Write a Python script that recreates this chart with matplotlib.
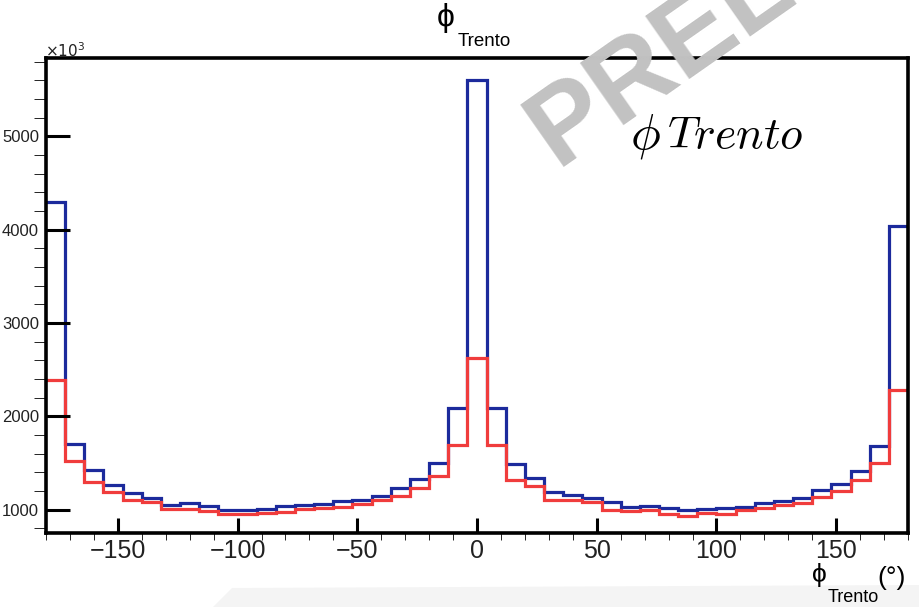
import numpy as np
import matplotlib
matplotlib.use('Agg')
import matplotlib.pyplot as plt
from matplotlib.patches import Polygon
from matplotlib.ticker import MultipleLocator

plt.rcParams['font.family'] = ['Liberation Sans', 'DejaVu Sans']

# histogram range / binning (degrees)
phi_lo, phi_hi, n_bins = -180, 180, 45

# counts per bin, in units of 10^3
counts_blue = [4294, 1707, 1421, 1268, 1179, 1125, 1054, 1071, 1043, 1000,
               1000, 1007, 1043, 1050, 1061, 1096, 1107, 1150, 1232, 1329,
               1500, 2090, 5601, 2090, 1489, 1339, 1189, 1157, 1129, 1086,
               1029, 1043, 1018, 1000, 1007, 1018, 1032, 1071, 1096, 1121,
               1211, 1275, 1411, 1686, 4044]
counts_red = [2386, 1518, 1296, 1186, 1107, 1079, 1011, 1007, 982, 950,
              950, 964, 971, 1011, 1018, 1029, 1061, 1107, 1150, 1232,
              1357, 1697, 2626, 1697, 1321, 1250, 1107, 1100, 1079, 1000,
              982, 1000, 957, 932, 964, 957, 1000, 1018, 1054, 1071,
              1136, 1204, 1321, 1500, 2279]

W, H = 919, 607
fig = plt.figure(figsize=(W / 100, H / 100), dpi=100)
ax = fig.add_axes([46 / W, 1 - 533 / H, (908 - 46) / W, (533 - 58) / H])

edges = np.linspace(phi_lo, phi_hi, n_bins + 1)
ax.stairs(counts_blue, edges, baseline=None, color='#1c2a9c', lw=2.3)
ax.stairs(counts_red, edges, baseline=None, color='#f03c3c', lw=2.3)

ax.set_xlim(phi_lo, phi_hi)
ax.set_ylim(750, 5840)
ax.xaxis.set_major_locator(MultipleLocator(50))
ax.xaxis.set_minor_locator(MultipleLocator(10))
ax.yaxis.set_major_locator(MultipleLocator(1000))
ax.yaxis.set_minor_locator(MultipleLocator(200))
ax.tick_params(direction='in', width=2.2, colors='black')
ax.tick_params(axis='y', which='major', length=17, labelsize=12, pad=5)
ax.tick_params(axis='y', which='minor', length=9)
ax.tick_params(axis='x', which='major', length=11, labelsize=18, pad=4)
ax.tick_params(axis='x', which='minor', length=5)
for s in ax.spines.values():
    s.set_linewidth(2.6)
for lab in ax.get_xticklabels():
    lab.set_color('#222222')
for lab in ax.get_yticklabels():
    lab.set_color('#222222')


def px(x, y):
    return x / W, 1 - y / H


# title
fig.text(*px(437, 3), '\u03d5', fontsize=23, ha='left', va='top')
fig.text(*px(458, 46), 'Trento', fontsize=13.5, ha='left', va='baseline')

# exponent
fig.text(*px(45, 57), r'$\times10^{3}$', fontsize=11, ha='left', va='baseline',
         color='#222222')

# x axis label
fig.text(*px(812, 563), '\u03d5', fontsize=19, ha='left', va='top')
fig.text(*px(828, 602), 'Trento', fontsize=13, ha='left', va='baseline')
fig.text(*px(877, 585), '(\u00b0)', fontsize=19, ha='left', va='baseline')

# label inside the plot
fig.text(*px(630, 148), r'$\phi$', fontsize=36, ha='left', va='baseline',
         math_fontfamily='cm')
fig.text(*px(667, 148), r'$Trento$', fontsize=33, ha='left', va='baseline',
         math_fontfamily='cm')

# watermark
fig.text(*px(557, 167), 'PRELIMINARY', fontsize=80, fontweight='bold',
         color='#c2c2c2', rotation=35, rotation_mode='anchor',
         ha='left', va='baseline', zorder=10)

# light band at the bottom
band = Polygon([px(213, 607), px(232, 588), px(919, 585), px(919, 607)],
               closed=True, transform=fig.transFigure, facecolor='#f4f4f4',
               edgecolor='none', zorder=-1)
fig.patches.append(band)

fig.savefig('out.png', dpi=100)
